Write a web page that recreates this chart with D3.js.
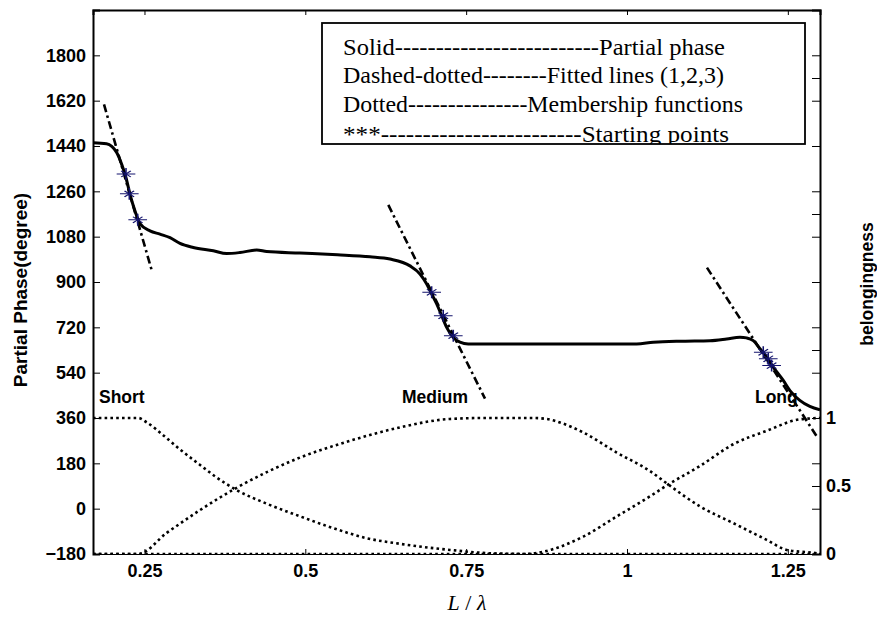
<!DOCTYPE html>
<html>
<head>
<meta charset="utf-8">
<script src="https://cdn.jsdelivr.net/npm/d3@7"></script>
<style>
  body { margin: 0; background: #fff; }
  .tick text { font-family: Arial, "Liberation Sans", sans-serif; font-weight: bold; font-size: 18px; fill: #000; }
</style>
</head>
<body>
<div class="chart"></div>
<script>
// tick values
const xTicks = [0.25, 0.5, 0.75, 1, 1.25]
const phaseTicks = [-180, 0, 180, 360, 540, 720, 900, 1080, 1260, 1440, 1620, 1800]
const belongTicks = [0, 0.333, 0.5, 0.667, 1, 1.333, 1.5, 1.667, 2, 2.333, 2.5, 2.667, 3, 3.333, 3.5, 3.667]
const belongLabels = [0, 0.5, 1]

// partial phase (solid)
const phaseX = [0.17, 0.191, 0.207, 0.2146, 0.2213, 0.2275, 0.2353, 0.243, 0.2586, 0.2741, 0.2897, 0.3052, 0.3259, 0.357, 0.3778, 0.3985, 0.4244, 0.44, 0.4917, 0.55, 0.6005, 0.6316, 0.6627, 0.6782, 0.6887, 0.6964, 0.7042, 0.712, 0.7197, 0.73, 0.7404, 0.7533, 0.9114, 1.015, 1.0409, 1.0875, 1.129, 1.155, 1.1756, 1.186, 1.1963, 1.2067, 1.2171, 1.2273, 1.2429, 1.2533, 1.2686, 1.2842, 1.3]
const phaseY = [1453, 1449, 1413, 1367, 1314, 1248, 1182, 1132, 1103, 1090, 1076, 1053, 1037, 1024, 1013, 1017, 1027, 1021, 1015, 1008, 1000, 991, 964, 932, 892, 852, 813, 766, 720, 680, 661, 654, 654, 654, 661, 665, 667, 674, 681, 678, 667, 635, 601, 562, 509, 469, 430, 406, 393]

// fitted lines (dash-dot), start and end of each
const fitX = [[0.1871, 0.2612], [0.629, 0.7793], [1.1243, 1.2973]]
const fitY = [[1605, 947], [1206, 437], [957, 278]]

// starting points (***)
const starX = [0.2213, 0.2264, 0.2395, 0.6964, 0.7144, 0.730, 1.2118, 1.2196, 1.2248]
const starY = [1329, 1250, 1147, 859, 766, 687, 621, 595, 568]

// membership functions (dotted), belongingness
const categories = ["Short", "Medium", "Long"]
const shortX = [0.17, 0.2404, 0.2535, 0.28, 0.305, 0.335, 0.36, 0.3933, 0.44, 0.4917, 0.5435, 0.5954, 0.6471, 0.7249, 0.79, 0.85, 1.3]
const shortY = [1, 1, 0.968, 0.87, 0.77, 0.66, 0.57, 0.47, 0.37, 0.277, 0.19, 0.116, 0.075, 0.03, 0.005, 0, 0]
const mediumX = [0.17, 0.2404, 0.2846, 0.3933, 0.4917, 0.5694, 0.6471, 0.7249, 0.7766, 0.8543, 0.875, 0.9, 0.932, 0.984, 1.0357, 1.0642, 1.1134, 1.1652, 1.2171, 1.2482, 1.2948, 1.3]
const mediumY = [0, 0, 0.155, 0.487, 0.709, 0.832, 0.931, 0.993, 1, 1, 0.993, 0.96, 0.894, 0.746, 0.61, 0.511, 0.35, 0.227, 0.104, 0.03, 0.005, 0]
const longX = [0.17, 0.84, 0.8699, 0.932, 0.984, 1.0357, 1.0642, 1.1134, 1.1652, 1.2171, 1.2686, 1.3]
const longY = [0, 0, 0.017, 0.128, 0.276, 0.424, 0.511, 0.647, 0.807, 0.906, 0.99, 1]

const legendLines = [
    "Solid-------------------------Partial phase",
    "Dashed-dotted--------Fitted lines (1,2,3)",
    "Dotted---------------Membership functions",
    "***------------------------Starting points"
]

const margin = {top: 10, right: 57, bottom: 65, left: 93},
    width = 877 - margin.left - margin.right,
    height = 619 - margin.top - margin.bottom;

const sansFont = "Arial, 'Liberation Sans', sans-serif"
const serifFont = "'Times New Roman', 'Liberation Serif', serif"

const svg = d3.select(".chart")
    .append("svg")
        .attr("width", width + margin.left + margin.right)
        .attr("height", height + margin.top + margin.bottom)
    .append("g")
        .attr("transform", "translate(" + margin.left + "," + margin.top + ")");

const x = d3.scaleLinear().domain([0.17, 1.3]).range([0, width])
const y = d3.scaleLinear().domain([-180, 1980]).range([height, 0])
const y2 = d3.scaleLinear().domain([0, 4]).range([height, 0])

svg.append("clipPath").attr("id", "plotClip")
    .append("rect").attr("width", width).attr("height", height)

const plot = svg.append("g").attr("clip-path", "url(#plotClip)")

// membership functions
const memberLine = d3.line()
    .x(d => x(d[0]))
    .y(d => y2(d[1]))
    .curve(d3.curveMonotoneX)

const members = [[shortX, shortY], [mediumX, mediumY], [longX, longY]]
members.forEach(function(m) {
    plot.append("path")
        .datum(m[0].map((v, i) => [v, m[1][i]]))
        .attr("d", memberLine)
        .attr("fill", "none")
        .attr("stroke", "#000")
        .attr("stroke-width", 2.6)
        .attr("stroke-dasharray", "2.6,3.2")
})

// partial phase
const phaseLine = d3.line()
    .x(d => x(d[0]))
    .y(d => y(d[1]))
    .curve(d3.curveMonotoneX)

plot.append("path")
    .datum(phaseX.map((v, i) => [v, phaseY[i]]))
    .attr("d", phaseLine)
    .attr("fill", "none")
    .attr("stroke", "#000")
    .attr("stroke-width", 3)
    .attr("stroke-linejoin", "round")

// fitted lines
fitX.forEach(function(fx, i) {
    plot.append("path")
        .datum([[fx[0], fitY[i][0]], [fx[1], fitY[i][1]]])
        .attr("d", d3.line().x(d => x(d[0])).y(d => y(d[1])))
        .attr("fill", "none")
        .attr("stroke", "#000")
        .attr("stroke-width", 2.6)
        .attr("stroke-dasharray", "8,3.5,2.5,3.5")
})

// starting points (plus + times)
const stars = plot.selectAll(".star")
    .data(starX.map((v, i) => [v, starY[i]]))
    .enter()
    .append("g")
        .attr("class", "star")
        .attr("transform", d => "translate(" + x(d[0]) + "," + y(d[1]) + ") scale(1.4,0.9)")
stars.append("path")
    .attr("d", d3.symbol(d3.symbolPlus, 60))
    .attr("fill", "none").attr("stroke", "#14146e").attr("stroke-width", 1.1)
stars.append("path")
    .attr("d", d3.symbol(d3.symbolTimes, 32))
    .attr("fill", "none").attr("stroke", "#14146e").attr("stroke-width", 1.1)

// category labels
const labelX = [0.1793, 0.6503, 1.1989]
categories.forEach(function(c, i) {
    svg.append("text")
        .attr("x", x(labelX[i]))
        .attr("y", y2(1.11))
        .attr("font-family", sansFont)
        .attr("font-weight", "bold")
        .attr("font-size", "17.5px")
        .text(c)
})

// axes
svg.append("g")
    .attr("transform", "translate(0," + height + ")")
    .call(d3.axisBottom(x).tickValues(xTicks).tickSize(-5).tickPadding(10).tickFormat(d3.format("")))
    .call(g => g.select(".domain").attr("stroke-width", 1))

svg.append("g")
    .call(d3.axisTop(x).tickValues(xTicks).tickSize(-5).tickFormat(""))
    .call(g => g.select(".domain").attr("stroke-width", 2))

svg.append("g")
    .call(d3.axisLeft(y).tickValues(phaseTicks).tickSize(-7).tickPadding(7).tickFormat(d3.format("d")))
    .call(g => g.select(".domain").attr("stroke-width", 2))

svg.append("g")
    .attr("transform", "translate(" + width + ",0)")
    .call(d3.axisRight(y2).tickValues(belongTicks).tickSize(-8).tickPadding(6)
        .tickFormat(d => belongLabels.includes(d) ? d : ""))
    .call(g => g.select(".domain").attr("stroke-width", 2))

// axis titles
svg.append("text")
    .attr("text-anchor", "middle")
    .attr("transform", "translate(" + (-66) + "," + 280 + ") rotate(-90)")
    .attr("font-family", sansFont)
    .attr("font-weight", "bold")
    .attr("font-size", "19px")
    .text("Partial Phase(degree)")

svg.append("text")
    .attr("text-anchor", "middle")
    .attr("transform", "translate(" + (width + 53) + "," + 274 + ") rotate(-90)")
    .attr("font-family", sansFont)
    .attr("font-weight", "bold")
    .attr("font-size", "17.5px")
    .text("belongingness")

const xTitle = svg.append("text")
    .attr("text-anchor", "middle")
    .attr("x", 374)
    .attr("y", height + 56)
    .attr("font-family", serifFont)
    .attr("font-style", "italic")
    .attr("font-size", "22px")
xTitle.append("tspan").text("L")
xTitle.append("tspan").attr("font-style", "normal").text(" / ")
xTitle.append("tspan").text("λ")

// legend box
const legend = svg.append("g").attr("transform", "translate(229,13)")
legend.append("clipPath").attr("id", "legendClip")
    .append("rect").attr("width", 483).attr("height", 121)
legend.append("rect")
    .attr("width", 483).attr("height", 121)
    .attr("fill", "#fff")
legend.append("g").attr("clip-path", "url(#legendClip)")
    .selectAll("text")
    .data(legendLines)
    .enter()
    .append("text")
        .attr("x", 21)
        .attr("y", (d, i) => [32, 60, 89, 119][i])
        .attr("font-family", serifFont)
        .attr("font-size", "23px")
        .attr("textLength", (d, i) => [382, 381, 400, 386][i])
        .attr("lengthAdjust", "spacingAndGlyphs")
        .text(d => d)
legend.append("rect")
    .attr("width", 483).attr("height", 121)
    .attr("fill", "none")
    .attr("stroke", "#000")
    .attr("stroke-width", 1.8)
</script>
</body>
</html>
